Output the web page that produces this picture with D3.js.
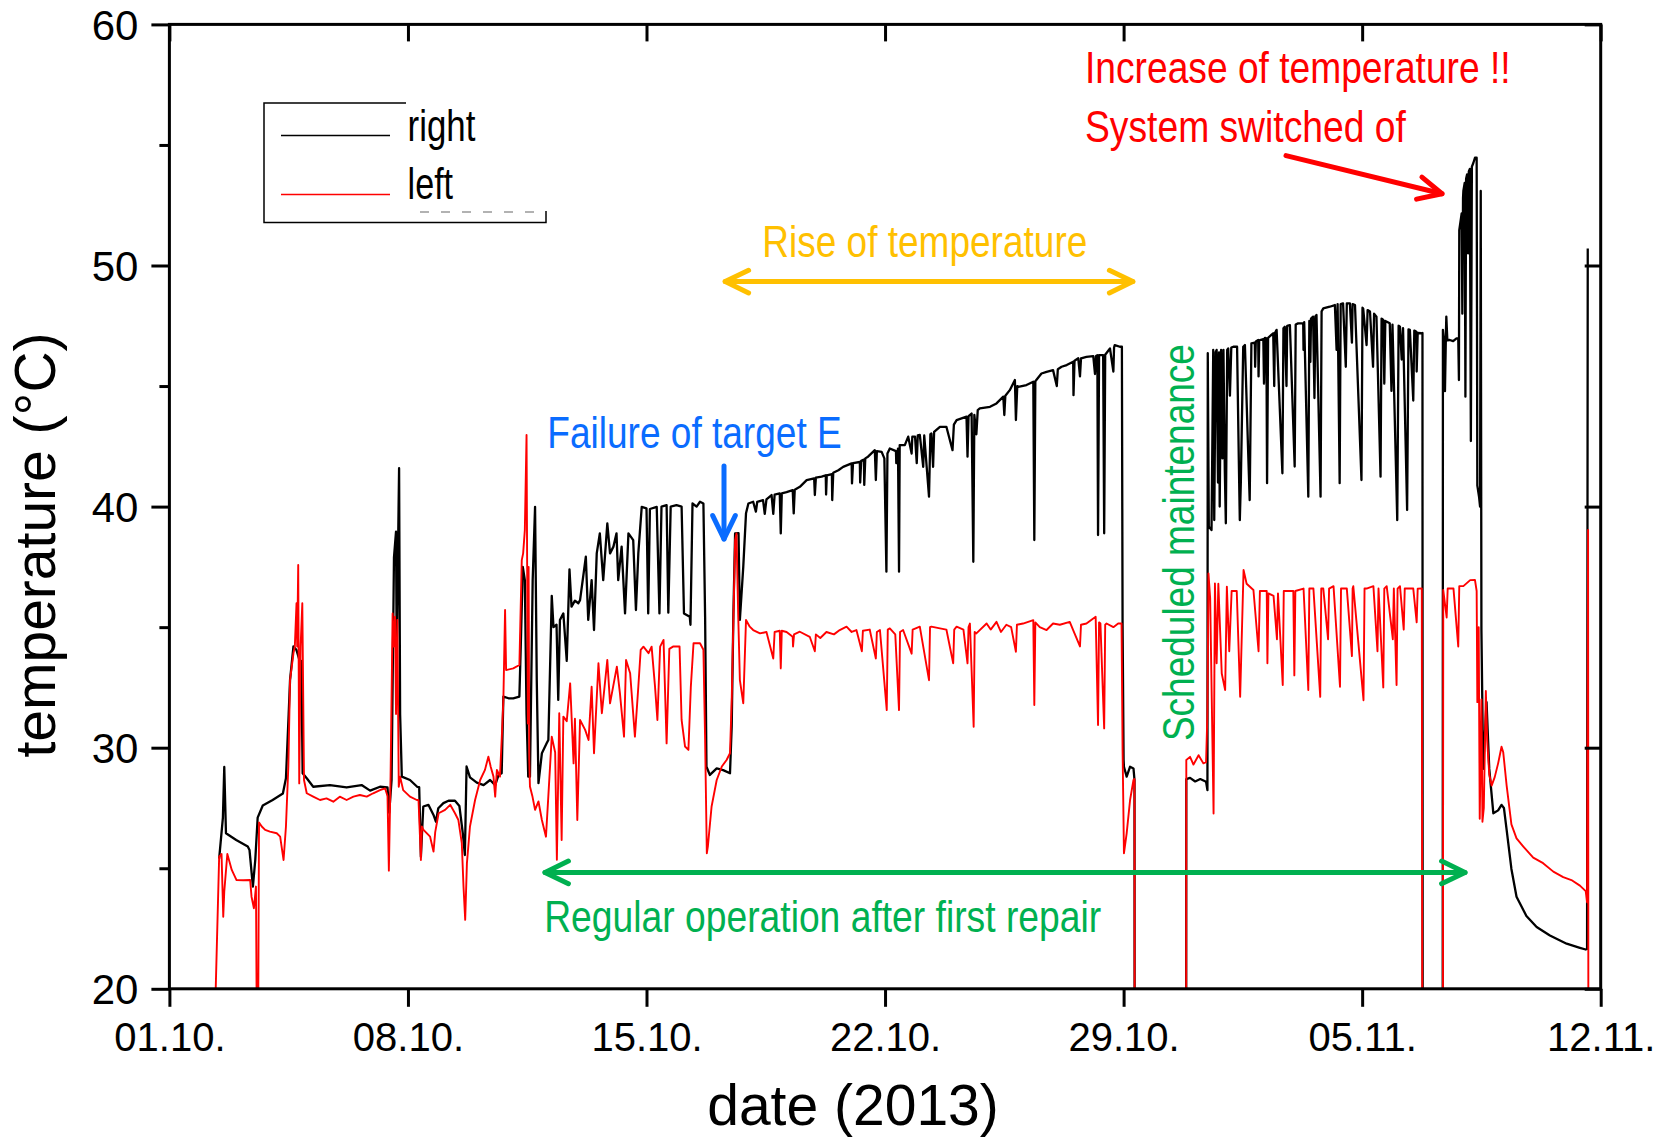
<!DOCTYPE html>
<html><head><meta charset="utf-8">
<script src="https://cdn.jsdelivr.net/npm/d3@7"></script>
<style>html,body{margin:0;padding:0;background:#fff;} svg{display:block;}</style>
</head><body>
<svg id="chart" width="1660" height="1139"></svg>
<script>
// ---------------- DATA ----------------
const xTickDays = [0, 7, 14, 21, 28, 35, 42];           // days after 01.10.2013
const xTickLabels = ["01.10.", "08.10.", "15.10.", "22.10.", "29.10.", "05.11.", "12.11."];
const yTicks = [20, 30, 40, 50, 60];
const yMinorTicks = [25, 35, 45, 55];
const seriesNames = ["right", "left"];
const seriesColors = ["#000000", "#ff0000"];

// [day after 01.10.2013, temperature °C]
const rightSeries = [
[1.46,25.4],[1.57,27.1],[1.61,29.2],[1.66,26.45],[1.96,26.17],[2.30,25.9],[2.35,25.76],[2.45,24.24],[2.52,25.35],[2.59,27.1],
[2.74,27.6],[3.03,27.83],[3.33,28.1],[3.42,28.73],[3.50,31.4],[3.54,32.8],[3.64,34.2],[3.73,34.05],[3.83,33.57],[3.87,33.6],
[3.91,28.94],[4.03,28.73],[4.22,28.38],[4.71,28.45],[5.20,28.35],[5.64,28.45],[5.89,28.22],[6.18,28.38],[6.40,28.35],[6.45,27.3],
[6.52,28.66],[6.59,37.9],[6.65,38.96],[6.67,33.9],[6.74,41.59],[6.77,31.4],[6.82,28.8],[7.06,28.66],[7.27,28.38],[7.33,28.36],
[7.38,25.48],[7.45,27.56],[7.60,27.63],[7.75,27.21],[7.82,26.93],[7.89,27.49],[8.04,27.7],[8.19,27.8],[8.38,27.8],[8.51,27.58],
[8.61,26.45],[8.67,25.55],[8.72,29.22],[8.82,28.77],[9.02,28.55],[9.22,28.45],[9.41,28.66],[9.56,28.45],[9.66,28.87],[9.75,28.94],
[9.80,32.12],[9.95,32.05],[10.09,32.05],[10.27,32.12],[10.31,34.19],[10.37,37.5],[10.43,36.95],[10.48,31.4],[10.53,28.8],[10.58,28.8],
[10.66,36.95],[10.73,39.99],[10.78,32.8],[10.83,28.53],[10.93,29.77],[11.07,30.18],[11.12,30.32],[11.22,36.3],[11.27,35.0],[11.36,35.1],
[11.41,31.98],[11.46,35.3],[11.56,35.57],[11.66,33.6],[11.74,37.4],[11.80,35.85],[11.9,36.1],[12.0,35.99],[12.05,36.12],[12.22,37.92],
[12.29,35.3],[12.39,36.95],[12.46,34.88],[12.54,38.06],[12.63,38.89],[12.73,36.95],[12.85,39.3],[12.93,38.06],[13.03,38.34],[13.12,38.89],
[13.17,36.95],[13.27,38.34],[13.37,35.57],[13.47,38.89],[13.61,38.61],[13.69,35.71],[13.76,38.06],[13.86,39.99],[14.0,39.93],[14.05,35.57],
[14.1,39.9],[14.3,39.99],[14.38,35.57],[14.44,40.0],[14.59,40.06],[14.64,35.6],[14.71,40.0],[14.88,40.06],[15.03,40.0],[15.1,35.57],
[15.27,35.43],[15.29,35.1],[15.35,40.13],[15.47,40.0],[15.57,40.2],[15.67,40.13],[15.72,35.43],[15.76,29.21],[15.86,28.87],[16.06,29.14],
[16.25,29.07],[16.45,28.94],[16.5,30.87],[16.55,35.57],[16.6,38.89],[16.7,38.9],[16.74,35.3],[16.84,37.51],[16.92,39.72],[16.99,40.13],
[17.13,40.2],[17.21,39.79],[17.25,40.2],[17.42,40.27],[17.47,39.7],[17.52,40.3],[17.67,40.48],[17.72,39.7],[17.76,40.5],[17.91,40.55],
[17.94,38.89],[17.97,40.55],[18.11,40.6],[18.29,40.68],[18.32,39.72],[18.35,40.7],[18.5,40.82],[18.7,41.1],[18.92,41.17],[18.94,40.48],
[18.97,41.2],[19.14,41.24],[19.26,41.3],[19.27,40.5],[19.29,41.3],[19.44,41.35],[19.45,40.27],[19.48,41.4],[19.63,41.51],[19.77,41.65],
[20.02,41.79],[20.03,40.96],[20.06,41.8],[20.26,41.85],[20.27,41.0],[20.3,41.9],[20.38,41.95],[20.39,40.9],[20.42,42.0],[20.5,42.07],
[20.7,42.34],[20.73,41.1],[20.76,42.3],[20.9,42.27],[20.98,42.0],[21.04,37.3],[21.07,42.2],[21.14,42.41],[21.32,42.3],[21.33,41.8],
[21.38,42.4],[21.41,37.3],[21.43,42.55],[21.58,42.55],[21.68,42.9],[21.78,42.2],[21.8,42.9],[21.88,42.9],[21.93,41.8],[21.96,42.95],
[22.02,42.97],[22.12,41.65],[22.15,42.95],[22.29,40.41],[22.33,43.0],[22.36,43.03],[22.41,41.65],[22.44,43.1],[22.61,43.31],[22.8,43.31],
[22.98,42.34],[23.02,43.4],[23.1,43.59],[23.39,43.73],[23.42,42.07],[23.45,43.75],[23.54,43.86],[23.59,37.71],[23.62,43.8],[23.68,43.0],
[23.72,44.0],[23.78,44.07],[24.08,44.14],[24.27,44.28],[24.47,44.56],[24.5,43.8],[24.53,44.6],[24.66,44.83],[24.81,45.25],[24.84,43.59],
[24.88,45.0],[24.91,44.97],[25.15,45.04],[25.35,45.18],[25.38,38.61],[25.41,45.2],[25.59,45.52],[25.74,45.59],[25.93,45.66],[26.04,45.0],
[26.07,45.7],[26.18,45.8],[26.33,45.87],[26.52,46.01],[26.53,44.62],[26.56,46.05],[26.67,46.15],[26.72,45.4],[26.75,46.15],[26.91,46.21],
[27.11,46.24],[27.16,45.5],[27.19,46.25],[27.23,46.28],[27.25,38.82],[27.28,46.28],[27.40,46.28],[27.43,38.89],[27.46,46.3],[27.6,46.56],
[27.7,45.6],[27.72,46.6],[27.74,46.7],[27.89,46.63],[27.95,46.63],[27.97,35.15],[28.0,29.5],[28.01,29.21],[28.09,28.8],[28.19,29.21],
[28.29,29.14],[28.32,28.66],[28.33,0],[29.83,0],[29.84,28.7],[29.95,28.75],[30.1,28.6],[30.25,28.7],[30.42,28.59],[30.46,28.24],
[30.47,46.36],[30.5,39.17],[30.58,39.03],[30.63,46.5],[30.66,39.44],[30.7,46.4],[30.73,46.5],[30.77,41.0],[30.8,46.4],[30.82,40.0],
[30.86,46.5],[30.9,42.0],[30.93,46.5],[30.97,41.5],[31.0,39.31],[31.04,46.5],[31.07,46.56],[31.12,44.6],[31.16,46.6],[31.22,46.63],
[31.33,46.63],[31.38,42.0],[31.41,39.44],[31.44,41.0],[31.51,46.63],[31.56,46.7],[31.65,42.5],[31.7,40.27],[31.75,46.77],[31.85,46.8],
[31.86,45.8],[31.88,46.85],[31.95,46.91],[31.96,45.4],[31.98,46.9],[32.1,46.95],[32.12,45.1],[32.15,47.0],[32.19,46.98],[32.21,40.97],
[32.24,47.0],[32.39,47.19],[32.42,45.0],[32.44,47.2],[32.49,47.33],[32.66,41.38],[32.69,47.4],[32.73,47.46],[32.78,45.0],[32.8,47.5],
[32.88,47.53],[33.02,41.66],[33.05,47.55],[33.12,47.6],[33.27,47.6],[33.28,46.5],[33.3,47.65],[33.42,40.41],[33.45,47.7],[33.48,46.0],
[33.5,47.8],[33.56,47.88],[33.6,44.5],[33.63,47.9],[33.66,47.95],[33.78,40.41],[33.81,48.1],[33.86,48.22],[34.05,48.29],[34.2,48.36],
[34.25,46.5],[34.28,48.4],[34.34,40.97],[34.37,48.4],[34.44,48.43],[34.52,45.8],[34.55,48.43],[34.64,48.43],[34.7,46.8],[34.72,48.4],
[34.79,48.36],[34.98,41.1],[35.01,48.25],[35.03,48.22],[35.13,46.7],[35.16,48.15],[35.23,48.09],[35.32,45.8],[35.35,48.0],[35.42,47.88],
[35.54,41.24],[35.57,47.8],[35.62,47.74],[35.65,45.1],[35.68,47.7],[35.81,47.6],[35.86,44.8],[35.89,47.55],[36.03,39.44],[36.07,47.5],
[36.11,47.46],[36.16,46.1],[36.2,47.4],[36.32,39.86],[36.36,47.35],[36.4,47.33],[36.5,44.4],[36.53,47.3],[36.59,47.25],[36.6,45.6],
[36.63,47.2],[36.74,47.19],[36.77,47.2],[36.78,0],[37.36,0],[37.37,47.33],[37.4,46.9],[37.43,44.79],[37.46,47.3],[37.47,47.88],
[37.5,46.9],[37.57,46.91],[37.67,46.86],[37.77,46.98],[37.82,46.98],[37.84,45.25],[37.85,51.47],[37.92,52.16],[37.94,48.0],[37.96,52.8],
[37.97,53.09],[38.01,53.43],[38.03,44.56],[38.05,53.6],[38.08,53.78],[38.11,50.5],[38.13,53.9],[38.16,54.01],[38.19,42.72],[38.22,54.1],
[38.26,54.24],[38.31,54.47],[38.36,54.47],[38.38,40.87],[38.43,40.41],[38.46,40.0],[38.48,53.09],[38.5,34.88],[38.55,29.12],[38.65,31.89],
[38.73,29.12],[38.85,27.28],[38.99,27.4],[39.09,27.63],[39.16,27.5],[39.24,26.59],[39.38,24.97],[39.53,23.82],[39.82,23.02],[40.12,22.56],
[40.51,22.21],[41.0,21.87],[41.39,21.7],[41.56,21.63],[41.6,21.65],[41.62,50.7]
];

const leftSeries = [
[1.35,19.5],[1.46,25.48],[1.53,25.59],[1.58,22.99],[1.61,24.03],[1.70,25.59],[1.83,24.93],[1.97,24.51],[2.17,24.5],[2.37,24.51],
[2.41,23.82],[2.48,23.34],[2.54,24.24],[2.57,17],[2.6,17],[2.63,26.9],[2.71,26.73],[2.81,26.59],[2.95,26.52],[3.15,26.45],
[3.25,26.31],[3.35,25.34],[3.42,26.73],[3.49,29.22],[3.54,32.8],[3.64,33.91],[3.68,34.19],[3.73,35.99],[3.75,34.2],[3.78,37.58],
[3.81,28.52],[3.85,34.19],[3.9,35.99],[3.95,28.66],[4.03,28.11],[4.22,27.97],[4.42,27.83],[4.61,27.9],[4.81,27.76],[5.0,27.97],
[5.2,27.83],[5.4,27.97],[5.59,28.04],[5.79,27.97],[5.98,28.11],[6.18,28.24],[6.33,28.31],[6.40,28.0],[6.44,24.9],[6.49,28.8],
[6.55,35.57],[6.58,34.2],[6.62,35.43],[6.65,31.4],[6.69,35.3],[6.73,28.38],[6.77,28.8],[6.86,28.24],[7.06,27.97],[7.26,27.83],
[7.31,27.83],[7.38,25.34],[7.41,26.73],[7.45,26.6],[7.65,26.31],[7.75,25.69],[7.8,26.5],[7.9,27.28],[8.09,27.42],[8.24,27.63],
[8.38,27.28],[8.48,27.0],[8.58,26.04],[8.63,24.24],[8.68,22.86],[8.73,25.2],[8.82,26.73],[8.97,27.83],[9.12,28.66],[9.26,29.08],
[9.36,29.63],[9.43,29.2],[9.51,28.8],[9.56,27.97],[9.61,29.08],[9.7,28.8],[9.75,30.32],[9.8,31.98],[9.85,35.71],[9.88,33.22],
[10.09,33.29],[10.27,33.43],[10.34,37.78],[10.38,38.06],[10.43,39.03],[10.48,42.97],[10.5,36.9],[10.52,31.0],[10.54,37.5],[10.56,29.5],
[10.58,28.39],[10.65,28.0],[10.73,27.42],[10.83,27.77],[10.93,27.0],[11.05,26.31],[11.12,28.0],[11.22,30.46],[11.32,29.8],[11.37,25.35],
[11.44,31.43],[11.51,26.17],[11.56,31.29],[11.66,31.1],[11.76,32.67],[11.86,29.35],[11.9,31.2],[11.97,27.0],[12.05,31.15],[12.2,30.74],
[12.3,30.32],[12.39,32.53],[12.46,29.77],[12.59,33.5],[12.69,31.43],[12.85,33.64],[12.93,31.84],[13.13,33.36],[13.22,32.26],[13.34,30.46],
[13.4,33.64],[13.52,33.09],[13.66,30.46],[13.76,32.53],[13.83,34.06],[13.91,34.19],[14.06,33.92],[14.15,34.19],[14.25,32.53],[14.32,31.15],
[14.4,34.19],[14.5,34.47],[14.59,30.18],[14.67,34.1],[14.79,34.2],[14.97,34.2],[15.03,31.15],[15.13,30.05],[15.23,29.91],[15.3,32.5],
[15.38,34.33],[15.57,34.33],[15.67,34.06],[15.72,30.32],[15.77,25.62],[15.8,25.9],[15.91,27.56],[16.06,28.66],[16.21,29.22],[16.35,29.49],
[16.45,29.77],[16.5,31.98],[16.6,38.61],[16.64,38.89],[16.69,35.57],[16.74,32.8],[16.84,31.84],[16.92,35.3],[17.03,35.02],[17.13,34.88],
[17.33,34.74],[17.52,34.8],[17.72,33.7],[17.76,34.8],[17.91,34.85],[17.94,33.29],[17.97,34.85],[18.11,34.8],[18.29,34.6],[18.3,34.2],
[18.33,34.7],[18.5,34.81],[18.79,34.6],[18.94,34.0],[18.97,34.7],[19.1,34.55],[19.28,34.8],[19.5,34.7],[19.67,34.88],[19.87,35.02],
[20.02,34.8],[20.16,34.88],[20.32,34.0],[20.35,34.85],[20.55,34.9],[20.73,33.7],[20.76,34.8],[20.85,34.88],[21.05,31.56],[21.08,34.9],
[21.14,34.95],[21.3,34.7],[21.41,31.56],[21.44,34.8],[21.53,34.88],[21.78,33.9],[21.81,34.9],[22.02,35.02],[22.29,32.8],[22.32,35.0],
[22.36,35.02],[22.61,34.95],[22.8,34.9],[23.0,33.5],[23.03,34.9],[23.1,35.02],[23.3,34.9],[23.42,33.5],[23.45,35.0],[23.49,35.15],
[23.6,30.87],[23.63,34.8],[23.68,34.74],[23.98,35.15],[24.1,34.9],[24.27,35.22],[24.4,34.8],[24.56,35.1],[24.7,35.0],[24.84,33.98],
[24.87,35.1],[25.05,35.15],[25.35,35.29],[25.38,31.77],[25.41,35.2],[25.54,35.0],[25.74,34.88],[25.93,35.15],[26.13,35.1],[26.42,35.22],
[26.52,34.88],[26.72,34.2],[26.75,35.1],[26.91,35.15],[27.11,35.36],[27.18,35.43],[27.25,30.94],[27.28,35.2],[27.32,35.15],[27.43,30.8],
[27.46,35.1],[27.5,35.15],[27.7,35.0],[27.84,35.15],[27.94,35.15],[27.97,29.9],[27.99,27.83],[28.01,25.62],[28.09,26.45],[28.19,27.83],
[28.29,28.66],[28.32,28.7],[28.33,0],[29.83,0],[29.84,29.49],[29.95,29.62],[30.05,29.3],[30.2,29.69],[30.34,29.35],[30.42,29.4],
[30.46,31.42],[30.49,37.23],[30.54,36.2],[30.64,27.27],[30.68,36.81],[30.73,33.5],[30.78,36.8],[30.88,33.08],[30.98,32.39],[31.03,36.68],
[31.1,34.0],[31.17,36.5],[31.32,36.5],[31.42,32.11],[31.52,37.37],[31.61,36.8],[31.81,36.54],[31.96,34.0],[32.0,36.5],[32.2,36.5],
[32.22,33.5],[32.25,36.4],[32.4,36.3],[32.5,34.5],[32.53,36.4],[32.67,32.6],[32.7,36.5],[32.79,36.5],[32.98,36.5],[33.01,33.0],
[33.04,36.5],[33.28,36.6],[33.42,32.39],[33.45,36.6],[33.57,36.6],[33.77,32.11],[33.8,36.6],[33.86,36.6],[34.0,34.5],[34.03,36.6],
[34.16,36.7],[34.35,32.53],[34.38,36.6],[34.55,36.6],[34.7,33.8],[34.72,36.6],[34.74,36.7],[35.04,31.97],[35.07,36.6],[35.13,36.6],
[35.33,36.7],[35.45,34.0],[35.48,36.6],[35.62,32.5],[35.65,36.6],[35.72,36.7],[35.9,34.5],[35.93,36.6],[36.01,32.6],[36.04,36.6],
[36.11,36.7],[36.22,34.9],[36.25,36.6],[36.5,36.6],[36.6,35.2],[36.63,36.6],[36.75,36.61],[36.78,0],[37.36,0],[37.38,36.54],
[37.48,35.4],[37.51,36.6],[37.68,36.6],[37.82,34.2],[37.85,36.7],[37.97,36.7],[38.17,36.95],[38.31,36.96],[38.36,36.5],[38.38,31.89],
[38.42,35.0],[38.45,27.05],[38.5,32.0],[38.53,26.93],[38.57,27.5],[38.63,32.35],[38.67,30.28],[38.73,28.89],[38.8,28.43],[38.89,28.78],
[38.99,29.35],[39.09,30.04],[39.14,29.81],[39.24,28.43],[39.38,26.82],[39.53,26.24],[39.73,25.9],[40.02,25.44],[40.31,25.21],[40.61,24.86],
[40.9,24.63],[41.14,24.51],[41.39,24.28],[41.56,24.05],[41.6,23.59],[41.63,39.03],[41.645,0]
];

// ---------------- CHART ----------------
const svg = d3.select("#chart");
const PL = 169.4, PR = 1600.7, PT = 24.4, PB = 988.8;
const t0 = Date.UTC(2013, 9, 1);
const toDate = d => new Date(t0 + d * 864e5);

const xScale = d3.scaleUtc().domain([toDate(0), toDate(42)]).range([PL, PR]);
const yScale = d3.scaleLinear().domain([20, 60]).range([PB, PT]);

const REG = "'Liberation Sans', Arial, Helvetica, sans-serif";
const NAR = "'Liberation Sans Narrow', 'Arial Narrow', 'Liberation Sans', Arial, sans-serif";

svg.append("defs").append("clipPath").attr("id", "plotclip")
  .append("rect").attr("x", PL).attr("y", PT).attr("width", PR - PL).attr("height", PB - PT);

const lineGen = d3.line().x(d => xScale(toDate(d[0]))).y(d => yScale(d[1]));
const plotG = svg.append("g").attr("clip-path", "url(#plotclip)");
[rightSeries, leftSeries].forEach((s, i) => {
  plotG.append("path").datum(s).attr("d", lineGen)
    .attr("fill", "none").attr("stroke", seriesColors[i])
    .attr("stroke-width", i === 0 ? 2.3 : 1.9).attr("stroke-linejoin", "round");
});

// axes
function styleAxis(g) {
  g.select(".domain").remove();
  g.selectAll(".tick line").attr("stroke", "#000").attr("stroke-width", 3);
}
const tickDates = xTickDays.map(toDate);
const axBottom = svg.append("g").attr("transform", `translate(0,${PB})`)
  .call(d3.axisBottom(xScale).tickValues(tickDates).tickSize(18).tickFormat((d, i) => xTickLabels[i]));
styleAxis(axBottom);
axBottom.selectAll(".tick text").attr("y", 62).attr("dy", 0)
  .attr("font-family", REG).attr("font-size", 40).attr("fill", "#000");

const axTop = svg.append("g").attr("transform", `translate(0,${PT})`)
  .call(d3.axisBottom(xScale).tickValues(tickDates).tickSize(17).tickFormat(""));
styleAxis(axTop);

const axLeft = svg.append("g").attr("transform", `translate(${PL},0)`)
  .call(d3.axisLeft(yScale).tickValues(yTicks).tickSize(18).tickPadding(13).tickFormat(d3.format("d")));
styleAxis(axLeft);
axLeft.selectAll(".tick text").attr("dy", "0.36em")
  .attr("font-family", REG).attr("font-size", 42).attr("fill", "#000");
const axLeftMinor = svg.append("g").attr("transform", `translate(${PL},0)`)
  .call(d3.axisLeft(yScale).tickValues(yMinorTicks).tickSize(10).tickFormat(""));
styleAxis(axLeftMinor);

const axRight = svg.append("g").attr("transform", `translate(${PR},0)`)
  .call(d3.axisLeft(yScale).tickValues(yTicks).tickSize(16).tickFormat(""));
styleAxis(axRight);

svg.append("rect").attr("x", PL).attr("y", PT).attr("width", PR - PL).attr("height", PB - PT)
  .attr("fill", "none").attr("stroke", "#000").attr("stroke-width", 3);

// axis titles
svg.append("text").attr("x", 853).attr("y", 1125).attr("text-anchor", "middle")
  .attr("font-family", REG).attr("font-size", 57).attr("fill", "#000").text("date (2013)");
svg.append("text").attr("transform", "translate(55,545) rotate(-90)").attr("text-anchor", "middle")
  .attr("font-family", REG).attr("font-size", 57).attr("fill", "#000").text("temperature (°C)");

// legend
const lg = svg.append("g");
lg.append("rect").attr("x", 264).attr("y", 103).attr("width", 282).attr("height", 119.5)
  .attr("fill", "#fff").attr("stroke", "#000").attr("stroke-width", 1.5);
lg.append("rect").attr("x", 406).attr("y", 98).attr("width", 145).attr("height", 113).attr("fill", "#fff");
lg.append("line").attr("x1", 420).attr("x2", 536).attr("y1", 212).attr("y2", 212)
  .attr("stroke", "#999").attr("stroke-width", 1.5).attr("stroke-dasharray", "9,12");
const lgY = [135.5, 194.5], lgTextY = [140.8, 199], lgLen = [67.8, 45.5];
seriesNames.forEach((n, i) => {
  lg.append("line").attr("x1", 281).attr("x2", 390).attr("y1", lgY[i]).attr("y2", lgY[i])
    .attr("stroke", seriesColors[i]).attr("stroke-width", 1.5);
  lg.append("text").attr("x", 407.6).attr("y", lgTextY[i]).attr("font-family", NAR)
    .attr("font-size", 44).attr("fill", "#000").attr("textLength", lgLen[i])
    .attr("lengthAdjust", "spacingAndGlyphs").text(n);
});

// annotations
function note(txt, xx, yy, len, color, rot) {
  const t = svg.append("text").attr("font-family", NAR).attr("font-size", 44).attr("fill", color)
    .attr("textLength", len).attr("lengthAdjust", "spacingAndGlyphs").text(txt);
  if (rot) t.attr("transform", `translate(${xx},${yy}) rotate(-90)`).attr("text-anchor", "middle");
  else t.attr("x", xx).attr("y", yy);
}
function head(x1, y1, x2, y2, color) { // chevron at (x2,y2)
  const a = Math.atan2(y2 - y1, x2 - x1), Lh = 26, w = 0.45;
  const p = [[x2 - Lh * Math.cos(a - w), y2 - Lh * Math.sin(a - w)], [x2, y2], [x2 - Lh * Math.cos(a + w), y2 - Lh * Math.sin(a + w)]];
  svg.append("path").attr("d", d3.line()(p)).attr("fill", "none").attr("stroke", color)
    .attr("stroke-width", 5).attr("stroke-linecap", "round").attr("stroke-linejoin", "round");
}
function arrow(x1, y1, x2, y2, color, both) {
  svg.append("line").attr("x1", x1).attr("y1", y1).attr("x2", x2).attr("y2", y2)
    .attr("stroke", color).attr("stroke-width", 5).attr("stroke-linecap", "round");
  head(x1, y1, x2, y2, color);
  if (both) head(x2, y2, x1, y1, color);
}
const RED = "#ff0000", ORANGE = "#ffc000", BLUE = "#0a6cff", GREEN = "#00b050";
note("Increase of temperature !!", 1085, 82.6, 425.6, RED);
note("System switched of", 1085, 141.8, 320.8, RED);
arrow(1286, 155.6, 1442, 193.7, RED, false);
note("Rise of temperature", 762.3, 257, 325, ORANGE);
arrow(725.2, 281.6, 1132.8, 281.6, ORANGE, true);
note("Failure of target E", 547.3, 447.8, 294.4, BLUE);
arrow(724, 466, 724, 539, BLUE, false);
note("Scheduled maintenance", 1194, 542.6, 397, GREEN, true);
arrow(545, 872.4, 1465, 872.4, GREEN, true);
note("Regular operation after first repair", 544.2, 931.7, 557, GREEN);
</script>
</body></html>
